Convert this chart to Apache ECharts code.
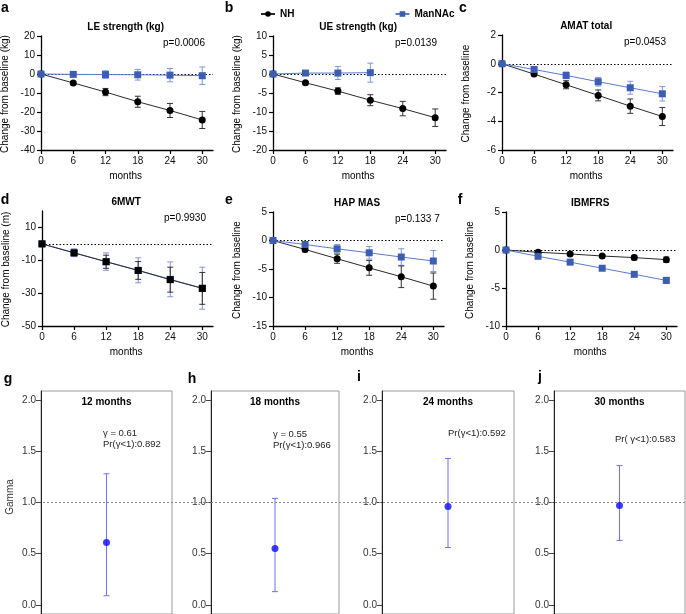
<!DOCTYPE html>
<html><head><meta charset="utf-8">
<script src="https://cdn.jsdelivr.net/npm/echarts@6/dist/echarts.min.js"></script>
<style>html,body{margin:0;padding:0;background:#fff}#c{width:686px;height:614px}</style>
</head><body><div id="c"></div>
<script>
// ---------- data ----------
const months = [0, 6, 12, 18, 24, 30];
const monthsUE_MN = [0, 6, 12, 18];
const xTicks = [0, 6, 12, 18, 24, 30];

const LE_NH = [0, -4.7, -9.5, -14.6, -19.2, -24.2];
const LE_NH_err = [0, 0.8, 1.9, 2.9, 3.7, 4.5];
const LE_MN = [0, -0.2, -0.3, -0.4, -0.6, -0.9];
const LE_MN_err = [0, 0.6, 2.0, 2.8, 3.5, 4.6];

const UE_NH = [0, -2.3, -4.5, -6.9, -9.1, -11.5];
const UE_NH_err = [0, 0.3, 0.85, 1.45, 1.9, 2.3];
const UE_MN = [0, 0.25, 0.25, 0.35];
const UE_MN_err = [0, 0.6, 1.7, 2.5];

const AMAT_NH = [0, -0.72, -1.46, -2.2, -2.95, -3.67];
const AMAT_NH_err = [0, 0.08, 0.28, 0.38, 0.5, 0.63];
const AMAT_MN = [0, -0.4, -0.81, -1.25, -1.67, -2.09];
const AMAT_MN_err = [0, 0.08, 0.23, 0.3, 0.45, 0.5];

const MWT_NH = [0, -5.5, -10.9, -16.2, -21.8, -27.1];
const MWT_NH_err = [0, 1.5, 4.0, 5.4, 7.6, 9.7];
const MWT_MN = [0, -5.4, -10.8, -16.1, -21.6, -27.0];
const MWT_MN_err = [0, 2.4, 5.3, 7.6, 10.6, 12.8];

const HAP_NH = [0, -1.57, -3.2, -4.8, -6.36, -8.0];
const HAP_NH_err = [0, 0.4, 0.8, 1.3, 1.9, 2.3];
const HAP_MN = [0, -0.7, -1.46, -2.16, -2.9, -3.6];
const HAP_MN_err = [0, 0.3, 0.75, 1.1, 1.45, 1.85];

const IBM_NH = [0, -0.3, -0.52, -0.79, -1.0, -1.27];
const IBM_NH_err = [0, 0.1, 0.1, 0.12, 0.3, 0.35];
const IBM_MN = [0, -0.83, -1.6, -2.4, -3.2, -4.0];
const IBM_MN_err = [0, 0.12, 0.15, 0.2, 0.3, 0.4];

const gammaTitles = ['12 months', '18 months', '24 months', '30 months'];
const gammaEst = [0.61, 0.55, 0.96, 0.97];
const gammaLo = [0.09, 0.13, 0.56, 0.63];
const gammaHi = [1.28, 1.04, 1.43, 1.36];
const gammaNotes = [['γ = 0.61', 'Pr(γ<1):0.892'], ['γ = 0.55', 'Pr(γ<1):0.966'], ['Pr(γ<1):0.592'], ['Pr( γ<1):0.583']];
const gammaTicks = [0, 0.5, 1.0, 1.5, 2.0];

const pValues = ['p=0.0006', 'p=0.0139', 'p=0.0453', 'p=0.9930', 'p=0.133 7', ''];
const panelTitles = ['LE strength (kg)', 'UE strength (kg)', 'AMAT total', '6MWT', 'HAP MAS', 'IBMFRS'];
const yNames = ['Change from baseline (kg)', 'Change from baseline (kg)', 'Change from baseline', 'Change from baseline (m)', 'Change from baseline', 'Change from baseline'];

// ---------- styling / layout ----------
const FF = '"Liberation Sans", Arial, Helvetica, sans-serif';
const C_NH = '#000000', C_NH_LINE = '#2a2a2a', C_NH_ERR = '#333333';
const C_MN = '#3d5db3', C_MN_LINE = '#5a7ccc', C_MN_ERR = '#7d97d8';

const panelsTop = [
  {grid: {left: 41, top: 36, width: 172, height: 114}, y: {min: -40, max: 20, interval: 10}},
  {grid: {left: 273, top: 36, width: 173, height: 114}, y: {min: -20, max: 10, interval: 5}},
  {grid: {left: 502, top: 35, width: 171, height: 115}, y: {min: -6, max: 2, interval: 2}},
  {grid: {left: 42, top: 211, width: 171, height: 115}, y: {min: -50, max: 20, custom: [-50, -30, -10, 10]}},
  {grid: {left: 273, top: 212, width: 171, height: 114}, y: {min: -15, max: 5, interval: 5}},
  {grid: {left: 506, top: 212, width: 171, height: 114}, y: {min: -10, max: 5, interval: 5}}
];
const seriesData = [
  [months, LE_NH, LE_NH_err, months, LE_MN, LE_MN_err],
  [months, UE_NH, UE_NH_err, monthsUE_MN, UE_MN, UE_MN_err],
  [months, AMAT_NH, AMAT_NH_err, months, AMAT_MN, AMAT_MN_err],
  [months, MWT_NH, MWT_NH_err, months, MWT_MN, MWT_MN_err],
  [months, HAP_NH, HAP_NH_err, months, HAP_MN, HAP_MN_err],
  [months, IBM_NH, IBM_NH_err, months, IBM_MN, IBM_MN_err]
];

const grids = [], xAxes = [], yAxes = [], series = [], graphics = [];

function errSeries(ai, xs, lo, hi, color, cap, z) {
  const data = [];
  xs.forEach((x, i) => { if (hi[i] !== lo[i]) data.push([x, lo[i], hi[i]]); });
  return {
    type: 'custom', xAxisIndex: ai, yAxisIndex: ai, z: z, silent: true, data: data,
    encode: {x: 0, y: [1, 2]},
    renderItem: function (params, api) {
      const x = api.value(0);
      const a = api.coord([x, api.value(1)]);
      const b = api.coord([x, api.value(2)]);
      const st = {stroke: color, lineWidth: 1};
      return {type: 'group', children: [
        {type: 'line', shape: {x1: a[0], y1: a[1], x2: b[0], y2: b[1]}, style: st},
        {type: 'line', shape: {x1: a[0] - cap, y1: a[1], x2: a[0] + cap, y2: a[1]}, style: st},
        {type: 'line', shape: {x1: b[0] - cap, y1: b[1], x2: b[0] + cap, y2: b[1]}, style: st}
      ]};
    }
  };
}

function txt(text, x, y, opts) {
  opts = opts || {};
  return {type: 'text', x: x, y: y, rotation: opts.rot || 0, silent: true, z: 100,
    style: {text: text, align: opts.align || 'center', verticalAlign: opts.va || 'middle',
      font: (opts.weight || 'normal') + ' ' + (opts.size || 10) + 'px ' + FF, fill: opts.color || '#000'}};
}

panelsTop.forEach((p, i) => {
  grids.push(Object.assign({containLabel: false}, p.grid));
  xAxes.push({
    type: 'value', gridIndex: i, min: 0, max: 32,
    axisLine: {show: true, onZero: false, lineStyle: {color: '#000', width: 1.3}},
    axisTick: {show: true, length: 4, customValues: xTicks, lineStyle: {color: '#000', width: 1.2}},
    axisLabel: {customValues: xTicks, fontSize: 10, fontFamily: FF, color: '#111', margin: 6},
    splitLine: {show: false}
  });
  const ya = {
    type: 'value', gridIndex: i, min: p.y.min, max: p.y.max,
    axisLine: {show: true, onZero: false, lineStyle: {color: '#000', width: 1.3}},
    axisTick: {show: true, length: 4, lineStyle: {color: '#000', width: 1.2}},
    axisLabel: {fontSize: 10, fontFamily: FF, color: '#111', margin: 6},
    splitLine: {show: false}
  };
  if (p.y.interval) ya.interval = p.y.interval;
  if (p.y.custom) { ya.axisTick.customValues = p.y.custom; ya.axisLabel.customValues = p.y.custom; }
  yAxes.push(ya);

  const d = seriesData[i];
  const nhSym = i === 3 ? 'rect' : 'circle';
  series.push(errSeries(i, d[3], d[4].map((v, k) => v - d[5][k]), d[4].map((v, k) => v + d[5][k]), C_MN_ERR, 3, 3));
  series.push(errSeries(i, d[0], d[1].map((v, k) => v - d[2][k]), d[1].map((v, k) => v + d[2][k]), C_NH_ERR, 3, 4));
  series.push({
    name: 'ManNAc', type: 'line', xAxisIndex: i, yAxisIndex: i, z: i === 3 ? 5 : 7,
    data: d[3].map((x, k) => [x, d[4][k]]), symbol: 'rect', symbolSize: 7, showSymbol: true,
    lineStyle: {color: C_MN_LINE, width: 1}, itemStyle: {color: C_MN}, silent: true, animation: false
  });
  series.push({
    name: 'NH', type: 'line', xAxisIndex: i, yAxisIndex: i, z: 6,
    data: d[0].map((x, k) => [x, d[1][k]]), symbol: nhSym, symbolSize: 7, showSymbol: true,
    lineStyle: {color: C_NH_LINE, width: 1}, itemStyle: {color: C_NH}, silent: true, animation: false,
    markLine: {silent: true, symbol: 'none', label: {show: false}, animation: false,
      lineStyle: {color: '#000', type: [1.5, 2], width: 1}, data: [{yAxis: 0}]}
  });

  const g = p.grid;
  const cx = g.left + g.width * 30 / 32 / 2 + 4;
  graphics.push(txt(panelTitles[i], cx, g.top - 9, {weight: 'bold'}));
  if (pValues[i]) graphics.push(txt(pValues[i], g.left + 122, g.top + 7, {align: 'left'}));
  graphics.push(txt('months', cx, g.top + g.height + 26));
  graphics.push(txt(yNames[i], g.left - 36, g.top + g.height / 2 + 1, {rot: Math.PI / 2}));
});

// panel letters
[['a', 5, 8], ['b', 229, 8], ['c', 463, 8], ['d', 5, 200], ['e', 229, 200], ['f', 460, 200],
 ['g', 8, 379], ['h', 192, 379], ['i', 359, 377], ['j', 540, 377]].forEach(l => {
  graphics.push(txt(l[0], l[1], l[2], {weight: 'bold', size: 14}));
});

// bottom gamma panels
const gBoxes = [{left: 41, width: 131}, {left: 211, width: 128}, {left: 382, width: 132}, {left: 554, width: 131}];
const gTop = 391, gHeight = 223, gMin = -0.088, gMax = 2.088;
gBoxes.forEach((b, j) => {
  const gi = grids.length;
  grids.push({left: b.left, width: b.width, top: gTop, height: gHeight, show: true, borderColor: '#9a9a9a', borderWidth: 1, backgroundColor: 'transparent', z: 0});
  xAxes.push({type: 'value', gridIndex: gi, min: 0, max: 2, show: false});
  yAxes.push({
    type: 'value', gridIndex: gi, min: gMin, max: gMax, z: 4,
    axisLine: {show: true, lineStyle: {color: '#222', width: 1}},
    axisTick: {show: true, length: 5, customValues: gammaTicks, lineStyle: {color: '#444'}},
    axisLabel: {customValues: gammaTicks, formatter: v => v.toFixed(1), fontSize: 10, fontFamily: FF, color: '#333', margin: 5},
    splitLine: {show: false}
  });
  series.push(errSeries(gi, [1], [gammaLo[j]], [gammaHi[j]], '#6f6ff5', 3, 3));
  series.push({type: 'scatter', xAxisIndex: gi, yAxisIndex: gi, z: 5, silent: true, animation: false,
    data: [[1, gammaEst[j]]], symbol: 'circle', symbolSize: 7, itemStyle: {color: '#0a0aff'}});
  const cx = b.left + b.width / 2;
  graphics.push(txt(gammaTitles[j], cx, 402, {weight: 'bold'}));
  const notes = gammaNotes[j];
  const nx = [103, 273, 448, 615][j];
  const ny = notes.length === 2 ? [433, 434][j] : [0, 0, 433, 439][j];
  notes.forEach((n, k) => graphics.push(txt(n, nx, ny + k * 11.5, {align: 'left', size: 9.5, color: '#222'})));
});
graphics.push(txt('Gamma', 10, 497, {rot: Math.PI / 2, color: '#333'}));

// overlay grid for the dotted reference line at gamma = 1
{
  const oi = grids.length;
  grids.push({left: 43, right: 0, top: gTop, height: gHeight});
  xAxes.push({type: 'value', gridIndex: oi, min: 0, max: 1, show: false});
  yAxes.push({type: 'value', gridIndex: oi, min: gMin, max: gMax, show: false});
  series.push({type: 'scatter', xAxisIndex: oi, yAxisIndex: oi, data: [], silent: true,
    markLine: {silent: true, symbol: 'none', label: {show: false}, animation: false,
      lineStyle: {color: '#8a8a8a', type: [2, 2], width: 1}, data: [{yAxis: 1}]}});
}

const chart = echarts.init(document.getElementById('c'), null, {renderer: 'canvas'});
chart.setOption({
  animation: false,
  backgroundColor: '#fff',
  legend: {left: 255, top: 4, itemGap: 100, itemWidth: 14, itemHeight: 7,
    textStyle: {fontWeight: 'bold', fontSize: 10, fontFamily: FF, color: '#000'},
    data: ['NH', 'ManNAc'], selectedMode: false},
  grid: grids, xAxis: xAxes, yAxis: yAxes, series: series,
  graphic: graphics
});
</script></body></html>
